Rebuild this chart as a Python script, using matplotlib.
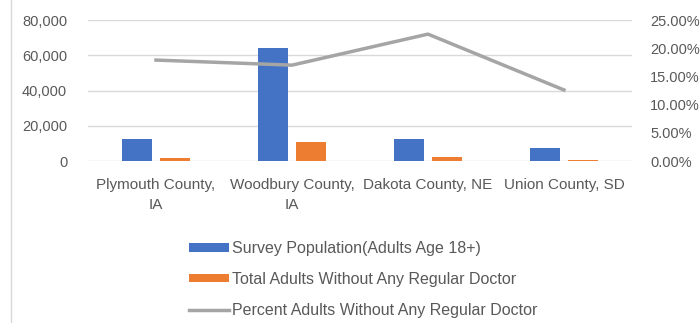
import numpy as np
import matplotlib.pyplot as plt
from matplotlib.ticker import FuncFormatter

# -------------------------------
# Data
# -------------------------------
counties = ["Plymouth County,\nIA", "Woodbury County,\nIA", "Dakota County, NE", "Union County, SD"]
survey_pop = [12500, 64200, 12500, 7400]
no_doctor = [1700, 10800, 2300, 600]
pct_no_doctor = [0.179, 0.170, 0.225, 0.126]

labels = ["Survey Population(Adults Age 18+)",
          "Total Adults Without Any Regular Doctor",
          "Percent Adults Without Any Regular Doctor"]

BLUE = "#4472C4"
ORANGE = "#ED7D31"
GRAY = "#A5A5A5"
TXT = "#595959"

plt.rcParams["font.family"] = ["Liberation Sans", "DejaVu Sans"]

fig = plt.figure(figsize=(7, 3.23), dpi=100)
ax = fig.add_axes([0.1257, 0.5015, 0.7771, 0.4365])
ax2 = ax.twinx()

x = np.arange(len(counties))
w = 0.22
b1 = ax.bar(x - 0.14, survey_pop, w, color=BLUE, zorder=3)
b2 = ax.bar(x + 0.14, no_doctor, w, color=ORANGE, zorder=3)
ln, = ax2.plot(x, pct_no_doctor, color=GRAY, lw=2.5, zorder=4)

ax.set_xlim(-0.5, len(counties) - 0.5)
ax.set_ylim(0, 80000)
ax.set_yticks(np.arange(0, 80001, 20000))
ax.yaxis.set_major_formatter(FuncFormatter(lambda v, p: f"{int(v):,}"))
ax2.set_ylim(0, 0.25)
ax2.set_yticks(np.arange(0, 0.2501, 0.05))
ax2.yaxis.set_major_formatter(FuncFormatter(lambda v, p: f"{v*100:.2f}%"))

ax.grid(axis="y", color="#D9D9D9", lw=1, zorder=0)
ax.set_xticks(x)
ax.set_xticklabels(counties, fontsize=11, color=TXT, linespacing=1.6)
for a in (ax, ax2):
    for s in a.spines.values():
        s.set_visible(False)
    a.tick_params(length=0, labelsize=10.5, labelcolor=TXT)
ax.tick_params(axis="x", labelsize=11, pad=12)
ax.tick_params(axis="y", pad=15)
ax2.tick_params(axis="y", pad=13)

fig.legend([b1, b2, ln], labels, loc="upper left", bbox_to_anchor=(0.259, 0.278),
           frameon=False, fontsize=11.5, labelcolor=TXT, handlelength=2.5,
           handleheight=0.4, handletextpad=0.2, labelspacing=1.0, borderpad=0)

# chart area left border
fig.add_artist(plt.Line2D([0.016, 0.016], [0, 1], color="#D9D9D9", lw=1))

plt.savefig("out.png")
plt.close()
